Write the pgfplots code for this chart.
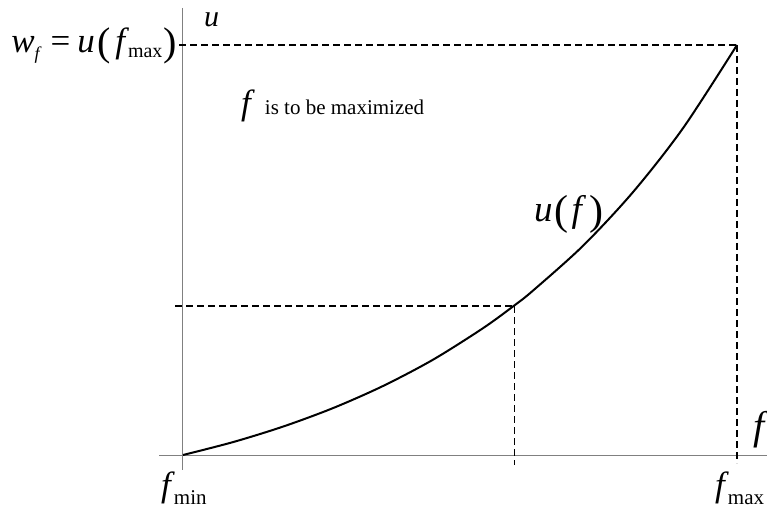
\documentclass[border=0pt]{standalone}
\usepackage{pgfplots}
\pgfplotsset{compat=1.18}
\usepackage{fontspec}
\setmainfont{Liberation Serif}
\newcommand\fs[1]{\fontsize{#1}{#1}\selectfont}
\begin{document}
\begin{tikzpicture}
\begin{axis}[
  x=1pt, y=1pt, hide axis, clip=false,
  xmin=-183, xmax=584, ymin=-54, ymax=455,
]
% axes
\addplot[gray, line width=1pt] coordinates {(-1,447) (-1,-15)};
\addplot[gray, line width=1pt] coordinates {(-24,0) (584,0)};
% guide lines
\addplot[black, line width=2pt, dash pattern=on 7pt off 4pt] coordinates {(-4,410) (554,410)};
\addplot[black, line width=2.2pt, dash pattern=on 7pt off 4pt] coordinates {(554,410) (554,-8)};
\addplot[black, line width=1.8pt, dash pattern=on 7pt off 4pt] coordinates {(-8,149) (331,149)};
\addplot[black, line width=1pt, dash pattern=on 7pt off 4pt] coordinates {(331,149) (331,-10)};
% curve u(f)
\addplot[black, line width=2pt, smooth] coordinates {
(0,0) (50,12.9) (100,28.4) (150,46.9) (200,69.0) (250,95.3) (300,126.8)
(331,149.3) (350,164.4) (400,209.2) (450,262.9) (500,326.8) (554,410)};
% labels
\node[anchor=base east, inner sep=0pt] at (axis cs:-6,402)
 {\fs{35}\textit{w}\raisebox{-7pt}{\fs{18}\textit{f}}\hspace{9pt}=\hspace{7pt}\textit{u}\hspace{3pt}\raisebox{-3pt}{\fs{40}(}\hspace{4pt}\textit{f}\hspace{-1pt}\raisebox{-5pt}{\fs{20}max}\hspace{1pt}\raisebox{-3pt}{\fs{40})}};
\node[anchor=base west, inner sep=0pt] at (axis cs:21,428) {\fs{30}\textit{u}};
\node[anchor=base west, inner sep=0pt] at (axis cs:58,340) {\fs{35}\textit{f}\hspace{10pt}\fs{21}is to be maximized};
\node[anchor=base west, inner sep=0pt] at (axis cs:351,233) {\fs{37}\textit{u}\hspace{2pt}\raisebox{-3pt}{\fs{42}(}\hspace{3pt}\textit{f}\hspace{3pt}\raisebox{-3pt}{\fs{42})}};
\node[anchor=base west, inner sep=0pt] at (axis cs:-22,-41) {\fs{35}\textit{f}\hspace{-1pt}\raisebox{-8pt}{\fs{21}min}};
\node[anchor=base west, inner sep=0pt] at (axis cs:532,-41) {\fs{35}\textit{f}\hspace{-1pt}\raisebox{-8pt}{\fs{21}max}};
\node[anchor=base west, inner sep=0pt] at (axis cs:570,16) {\fs{40}\textit{f}};
\coordinate (bl) at (axis cs:-183,-54);
\coordinate (tr) at (axis cs:584,455);
\end{axis}
\pgfresetboundingbox
\useasboundingbox (bl) rectangle (tr);
\end{tikzpicture}
\end{document}
